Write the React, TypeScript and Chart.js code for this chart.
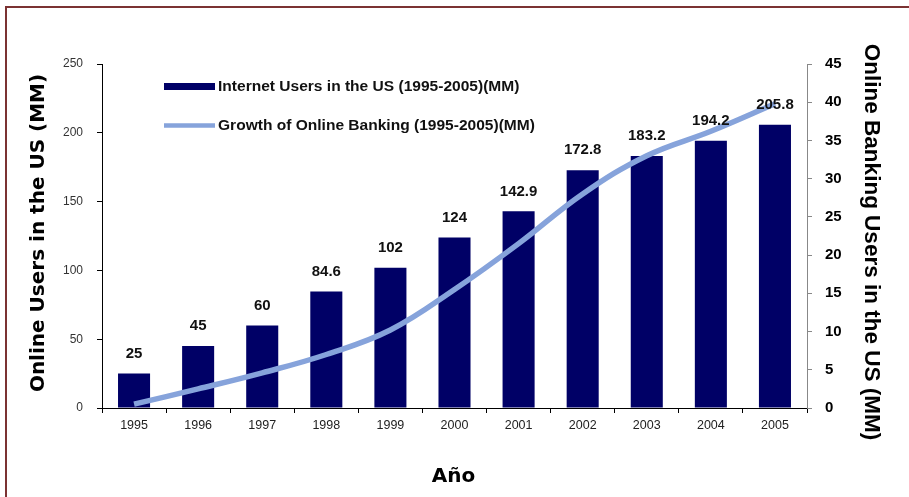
import React, { useEffect, useRef } from "react";
import { Chart, registerables } from "chart.js";

Chart.register(...registerables);

const years = ["1995", "1996", "1997", "1998", "1999", "2000", "2001", "2002", "2003", "2004", "2005"];
const internetUsers = [25, 45, 60, 84.6, 102, 124, 142.9, 172.8, 183.2, 194.2, 205.8];
const onlineBankingUsers = [0.5, 2.5, 4.6, 7, 10.2, 15.5, 21.5, 28, 33, 36.2, 39.8];

const barLabel = "Internet Users in the US (1995-2005)(MM)";
const lineLabel = "Growth of Online Banking (1995-2005)(MM)";
const leftTitle = "Online Users in the US (MM)";
const rightTitle = "Online Banking Users in the US (MM)";
const xTitle = "Año";

const NAVY = "#000066";
const LIGHT_BLUE = "#86a3db";

// Frame, axis titles, in-plot legend and bar value labels
const decorations = {
  id: "decorations",
  beforeDraw(chart: any) {
    const ctx = chart.ctx;
    ctx.save();
    ctx.fillStyle = "#ffffff";
    ctx.fillRect(0, 0, chart.width, chart.height);
    ctx.strokeStyle = "#7b3232";
    ctx.lineWidth = 2;
    ctx.strokeRect(6, 7, chart.width + 20, chart.height + 20);
    ctx.restore();
  },
  afterDatasetsDraw(chart: any) {
    const ctx = chart.ctx;
    const area = chart.chartArea;
    ctx.save();

    // value labels above the bars
    const meta = chart.getDatasetMeta(1);
    ctx.fillStyle = "#111";
    ctx.font = "bold 15px 'Liberation Sans', Arial, sans-serif";
    ctx.textAlign = "center";
    ctx.textBaseline = "middle";
    meta.data.forEach((bar: any, i: number) => {
      ctx.fillText(String(internetUsers[i]), bar.x, bar.y - 20);
    });

    // legend
    const lx = area.left + 62;
    ctx.fillStyle = NAVY;
    ctx.fillRect(lx, 83, 51, 7);
    ctx.strokeStyle = LIGHT_BLUE;
    ctx.lineWidth = 4.5;
    ctx.beginPath();
    ctx.moveTo(lx, 125.5);
    ctx.lineTo(lx + 51, 125.5);
    ctx.stroke();
    ctx.fillStyle = "#111";
    ctx.font = "bold 14px 'Liberation Sans', Arial, sans-serif";
    ctx.textAlign = "left";
    ctx.save();
    ctx.translate(lx + 54, 0);
    ctx.scale(1.11, 1);
    ctx.fillText(barLabel, 0, 87);
    ctx.fillText(lineLabel, 0, 126);
    ctx.restore();

    // axis titles
    ctx.fillStyle = "#000";
    ctx.font = "bold 20px 'DejaVu Sans', Verdana, sans-serif";
    ctx.textAlign = "center";
    ctx.fillText(xTitle, (area.left + area.right) / 2 - 1, 477);

    ctx.save();
    ctx.translate(39, 233);
    ctx.rotate(-Math.PI / 2);
    ctx.fillText(leftTitle, 0, 0);
    ctx.restore();

    ctx.save();
    ctx.translate(871, 242);
    ctx.rotate(Math.PI / 2);
    ctx.font = "bold 22.5px 'Liberation Sans', Arial, sans-serif";
    ctx.fillText(rightTitle, 0, 0);
    ctx.restore();

    ctx.restore();
  },
};

export default function App() {
  const canvasRef = useRef<HTMLCanvasElement | null>(null);

  useEffect(() => {
    if (!canvasRef.current) return;
    const chart = new Chart(canvasRef.current, {
      data: {
        labels: years,
        datasets: [
          {
            type: "line",
            label: lineLabel,
            data: onlineBankingUsers,
            yAxisID: "yRight",
            borderColor: LIGHT_BLUE,
            borderWidth: 5.5,
            pointRadius: 0,
            tension: 0.4,
            fill: false,
            order: 0,
          },
          {
            type: "bar",
            label: barLabel,
            data: internetUsers,
            yAxisID: "yLeft",
            backgroundColor: NAVY,
            borderWidth: 0,
            categoryPercentage: 1,
            barPercentage: 0.5,
            order: 1,
          },
        ],
      },
      options: {
        responsive: false,
        animation: false,
        devicePixelRatio: 1,
        layout: { padding: { top: 64, left: 0, right: 0, bottom: 0 } },
        plugins: {
          legend: { display: false },
          tooltip: { enabled: false },
          title: { display: false },
        },
        scales: {
          x: {
            offset: true,
            grid: {
              offset: true,
              drawOnChartArea: false,
              drawTicks: true,
              tickLength: 5,
              color: "#000",
            },
            border: { display: true, color: "#000", width: 1 },
            ticks: {
              color: "#222",
              font: { family: "'Liberation Sans', Arial, sans-serif", size: 12.5 },
              padding: 5,
              maxRotation: 0,
            },
            afterFit(scale: any) {
              scale.height = 89;
            },
          },
          yLeft: {
            type: "linear",
            position: "left",
            min: 0,
            max: 250,
            grid: {
              drawOnChartArea: false,
              drawTicks: true,
              tickLength: 5,
              color: "#000",
            },
            border: { display: true, color: "#000", width: 1 },
            ticks: {
              stepSize: 50,
              color: "#333",
              font: { family: "'Liberation Sans', Arial, sans-serif", size: 12 },
              padding: 14,
            },
            afterFit(scale: any) {
              scale.width = 102;
            },
          },
          yRight: {
            type: "linear",
            position: "right",
            min: 0,
            max: 45,
            grid: {
              drawOnChartArea: false,
              drawTicks: true,
              tickLength: 5,
              color: "#888",
            },
            border: { display: true, color: "#888", width: 1 },
            ticks: {
              stepSize: 5,
              color: "#000",
              font: { family: "'Liberation Sans', Arial, sans-serif", size: 15, weight: "bold" },
              padding: 13,
            },
            afterFit(scale: any) {
              scale.width = 102;
            },
          },
        },
      },
      plugins: [decorations],
    } as any);
    return () => chart.destroy();
  }, []);

  return (
    <div style={{ position: "fixed", left: 0, top: 0, width: 909, height: 497 }}>
      <canvas ref={canvasRef} width={909} height={497} style={{ display: "block" }} />
    </div>
  );
}
